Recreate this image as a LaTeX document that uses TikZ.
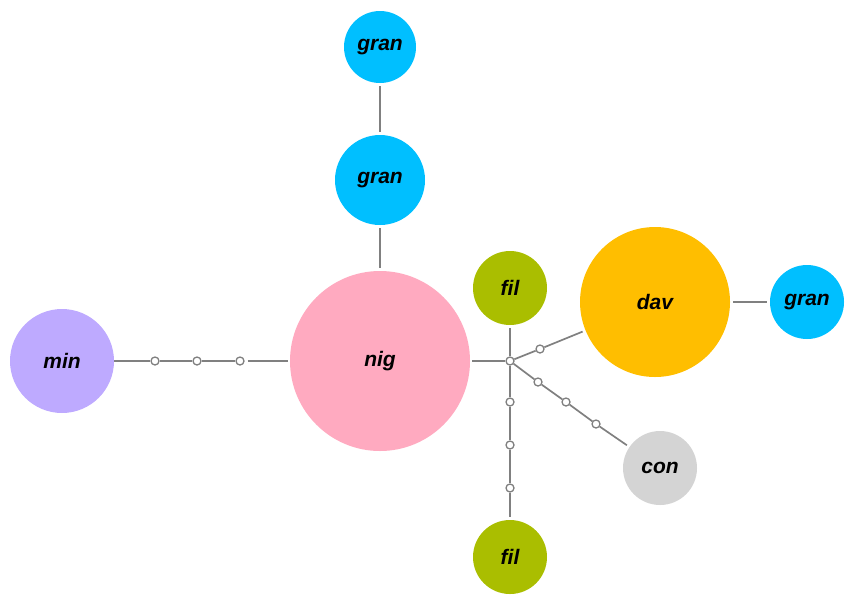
\documentclass[tikz,border=0pt]{standalone}
\usepackage{fontspec}
\setmainfont{Liberation Sans}
\definecolor{cgran}{RGB}{0,191,255}
\definecolor{cnig}{RGB}{255,170,192}
\definecolor{cmin}{RGB}{190,170,255}
\definecolor{cfil}{RGB}{170,190,0}
\definecolor{cdav}{RGB}{255,190,0}
\definecolor{ccon}{RGB}{212,212,212}
\definecolor{cedge}{RGB}{128,128,128}
\begin{document}
\begin{tikzpicture}[x=1pt,y=-1pt,
  hap/.style={circle,inner sep=0pt,draw=none,font=\fontsize{21}{21}\selectfont\bfseries\itshape},
  dot/.style={circle,inner sep=0pt,minimum size=8pt,draw=cedge,fill=white,line width=1.3pt},
  edge/.style={draw=cedge,line width=1.7pt}]
\useasboundingbox (0,0) rectangle (850,598);
% haplotype circles
\node[hap,fill=cgran,minimum size=72pt] (g1) at (380,47) {gran};
\node[hap,fill=cgran,minimum size=90pt] (g2) at (380,180) {gran};
\node[hap,fill=cnig,minimum size=180pt] (nig) at (380,361) {nig};
\node[hap,fill=cmin,minimum size=104pt] (min) at (62,361) {min};
\node[hap,fill=cfil,minimum size=74pt] (f1) at (510,288) {fil};
\node[hap,fill=cdav,minimum size=150pt] (dav) at (655,302) {dav};
\node[hap,fill=cgran,minimum size=74pt] (g3) at (807,302) {gran};
\node[hap,fill=ccon,minimum size=74pt] (con) at (660,468) {con};
\node[hap,fill=cfil,minimum size=74pt] (f2) at (510,557) {fil};
% median vectors / mutation steps
\node[dot] (j) at (510,361) {};
\node[dot] (m1) at (155,361) {};
\node[dot] (m2) at (197,361) {};
\node[dot] (m3) at (240,361) {};
\node[dot] (d1) at (540,349) {};
\node[dot] (c1) at (538,382) {};
\node[dot] (c2) at (566,402) {};
\node[dot] (c3) at (596,424) {};
\node[dot] (v1) at (510,402) {};
\node[dot] (v2) at (510,445) {};
\node[dot] (v3) at (510,488) {};
% connectors
\draw[edge,shorten <=3pt,shorten >=3pt] (g1) -- (g2);
\draw[edge,shorten <=3pt,shorten >=3pt] (g2) -- (nig);
\draw[edge,shorten <=3pt,shorten >=2pt] (min) -- (m1) -- (m2) -- (m3) -- (nig);
\draw[edge,shorten <=2pt] (nig) -- (j);
\draw[edge,shorten >=3pt] (j) -- (f1);
\draw[edge,shorten >=3pt] (j) -- (v1) -- (v2) -- (v3) -- (f2);
\draw[edge,shorten >=3pt] (j) -- (d1) -- (dav);
\draw[edge,shorten >=3pt] (j) -- (c1) -- (c2) -- (c3) -- (con);
\draw[edge,shorten <=3pt,shorten >=3pt] (dav) -- (g3);
\end{tikzpicture}
\end{document}
